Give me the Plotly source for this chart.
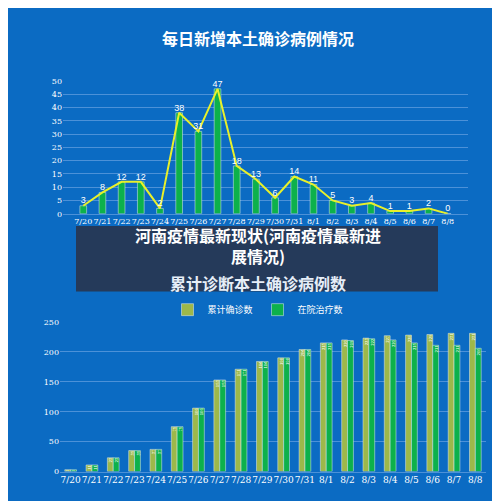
import plotly.graph_objects as go

dates = ["7/20", "7/21", "7/22", "7/23", "7/24", "7/25", "7/26", "7/27", "7/28", "7/29",
         "7/30", "7/31", "8/1", "8/2", "8/3", "8/4", "8/5", "8/6", "8/7", "8/8"]
daily_new = [3, 8, 12, 12, 2, 38, 31, 47, 18, 13, 6, 14, 11, 5, 3, 4, 1, 1, 2, 0]
cumulative = [3, 11, 23, 35, 37, 75, 106, 153, 171, 184, 190, 204, 215, 220, 223, 227, 228, 229, 231, 231]
in_hospital = [3, 11, 23, 35, 37, 75, 106, 153, 171, 184, 190, 204, 215, 219, 222, 220, 215, 211, 211, 206]

bg = "#0b6bc3"
grid = "rgba(120,170,230,0.6)"
tickfont = dict(family="DejaVu Serif", size=8, color="white")

fig = go.Figure()

# top chart: daily new
fig.add_trace(go.Bar(x=dates, y=daily_new, marker_color="#0db14b", width=0.35,
                     showlegend=False, xaxis="x", yaxis="y"))
fig.add_trace(go.Scatter(x=dates, y=daily_new, mode="lines+text", text=[str(v) for v in daily_new],
                         textposition="top center", textfont=dict(color="white", size=9, family="Liberation Sans Narrow, Arial Narrow, sans-serif"),
                         line=dict(color="#e8f02a", width=2), showlegend=False, xaxis="x", yaxis="y",
                         cliponaxis=False))

# bottom chart: cumulative
fig.add_trace(go.Bar(x=dates, y=cumulative, name="累计确诊数", marker_color="#9db84a",
                     text=cumulative, textposition="inside", textangle=-90, insidetextanchor="end",
                     textfont=dict(size=5, color="white"), xaxis="x2", yaxis="y2"))
fig.add_trace(go.Bar(x=dates, y=in_hospital, name="在院治疗数", marker_color="#0db14b",
                     text=in_hospital, textposition="inside", textangle=-90, insidetextanchor="end",
                     textfont=dict(size=5, color="white"), xaxis="x2", yaxis="y2"))

fig.update_layout(
    width=500, height=501, paper_bgcolor=bg, plot_bgcolor=bg,
    margin=dict(l=0, r=0, t=0, b=0), barmode="group", bargap=0.45, bargroupgap=0,
    font=dict(family="Noto Sans CJK SC", color="white"),
    xaxis=dict(domain=[0.11, 0.92], anchor="y", tickfont=dict(family="DejaVu Serif", size=8, color="white"),
               showgrid=False, linecolor=grid, tickangle=0),
    yaxis=dict(domain=[0.59, 0.86], anchor="x", range=[0, 50], dtick=5, tickfont=tickfont,
               gridcolor=grid, zeroline=False),
    xaxis2=dict(domain=[0.104, 0.956], anchor="y2", tickfont=dict(family="DejaVu Serif", size=9, color="white"),
                showgrid=False, linecolor=grid, tickangle=0),
    yaxis2=dict(domain=[0.066, 0.37], anchor="x2", range=[0, 250], dtick=50, tickfont=tickfont,
                gridcolor=grid, zeroline=False),
    legend=dict(orientation="h", x=0.5, xanchor="center", y=0.395, yanchor="middle",
                font=dict(size=9, color="white"), bgcolor="rgba(0,0,0,0)"),
)

fig.add_annotation(text="<b>每日新增本土确诊病例情况</b>", xref="paper", yref="paper", x=0.5, y=0.975,
                   showarrow=False, font=dict(size=16, color="white"))
fig.add_annotation(text="<b>累计诊断本土确诊病例数</b>", xref="paper", yref="paper", x=0.5, y=0.45,
                   showarrow=False, font=dict(size=16, color="#e6eef8"))
fig.add_shape(type="rect", xref="paper", yref="paper", x0=0.136, x1=0.86, y0=0.432, y1=0.565,
              fillcolor="rgba(45,45,60,0.78)", line_width=0)
fig.add_annotation(text="<b>河南疫情最新现状(河南疫情最新进</b><br><b>展情况)</b>", xref="paper", yref="paper",
                   x=0.5, y=0.525, showarrow=False, align="center",
                   font=dict(size=16, color="white", family="Noto Sans CJK SC"))

fig.write_html("out.html")
